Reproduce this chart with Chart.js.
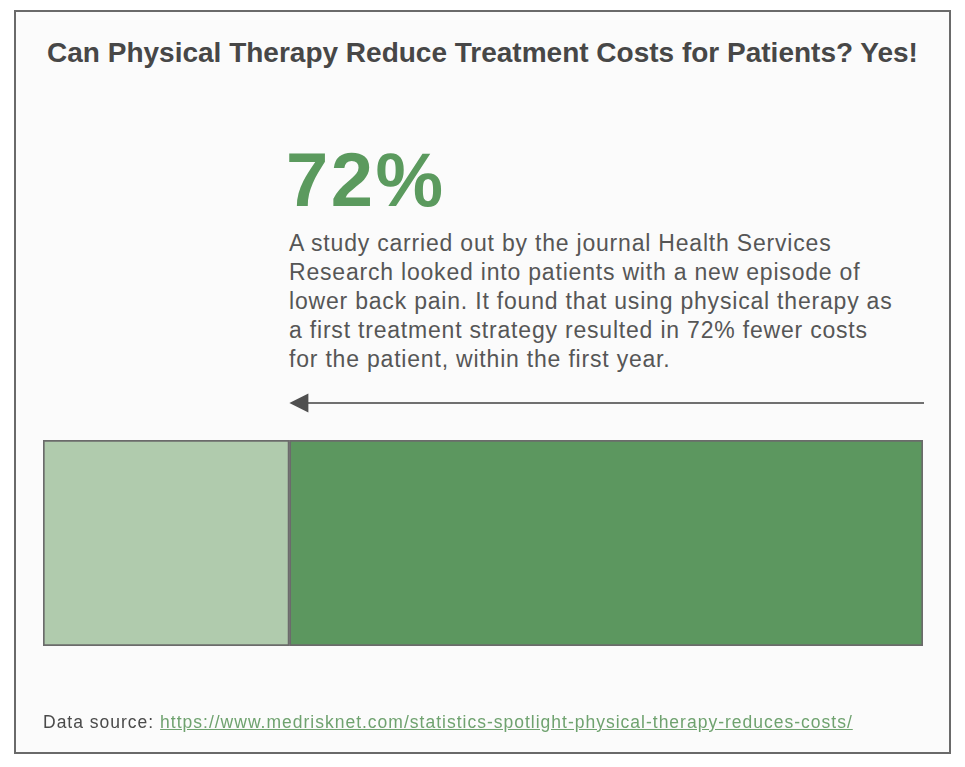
<!DOCTYPE html>
<html>
<head>
<meta charset="utf-8">
<script src="https://cdn.jsdelivr.net/npm/chart.js@4"></script>
<style>
  html, body { margin: 0; padding: 0; background: #ffffff; }
  body { width: 965px; height: 767px; position: relative; overflow: hidden; font-family: "Liberation Sans", Arial, sans-serif; }
  #frame { position: absolute; left: 14px; top: 10px; width: 933px; height: 740px; border: 2px solid #6a6a6a; background: #fbfbfb; box-sizing: content-box; }
  #title { position: absolute; left: 0; width: 965px; top: 37px; text-align: center; font-size: 28px; font-weight: bold; color: #474747; white-space: nowrap; }
  #big { position: absolute; left: 286px; top: 142px; font-size: 76px; font-weight: bold; color: #5b9a5e; line-height: 1; letter-spacing: 2.5px; }
  #para { position: absolute; left: 289px; top: 229px; width: 660px; font-size: 23px; line-height: 29px; color: #565656; letter-spacing: 0.8px; white-space: nowrap; }
  #source { position: absolute; left: 43px; top: 712px; font-size: 17.5px; color: #4a4a4a; letter-spacing: 1px; white-space: nowrap; }
  #source a { color: #6fa26f; text-decoration: underline; }
  #wrap { position: absolute; left: 0; top: 0; width: 965px; height: 767px; }
</style>
</head>
<body>
<div id="frame"></div>
<div id="title">Can Physical Therapy Reduce Treatment Costs for Patients? Yes!</div>
<div id="big">72%</div>
<div id="para">A study carried out by the journal Health Services<br>Research looked into patients with a new episode of<br>lower back pain. It found that using physical therapy as<br>a first treatment strategy resulted in 72% fewer costs<br>for the patient, within the first year.</div>
<div id="wrap"><canvas id="c" width="965" height="767"></canvas></div>
<div id="source">Data source: <a href="https://www.medrisknet.com/statistics-spotlight-physical-therapy-reduces-costs/">https://www.medrisknet.com/statistics-spotlight-physical-therapy-reduces-costs/</a></div>
<script>
const categories = ["Treatment costs"];
const remainingCost = [28];
const savedCost = [72];
const seriesLabels = ["Cost with physical therapy first", "Cost reduction"];

const arrowPlugin = {
  id: 'arrow',
  afterDatasetsDraw(chart) {
    const ctx = chart.ctx;
    const xs = chart.scales.x;
    const area = chart.chartArea;
    const y = area.top - 37;
    const xEnd = xs.getPixelForValue(remainingCost[0] + savedCost[0]) + 1;
    const xTip = xs.getPixelForValue(remainingCost[0]);
    ctx.save();
    ctx.strokeStyle = '#707070';
    ctx.lineWidth = 2;
    ctx.beginPath();
    ctx.moveTo(xTip + 10, y);
    ctx.lineTo(xEnd, y);
    ctx.stroke();
    ctx.fillStyle = '#4f4f4f';
    ctx.beginPath();
    ctx.moveTo(xTip, y);
    ctx.lineTo(xTip + 19, y - 9.5);
    ctx.lineTo(xTip + 19, y + 9.5);
    ctx.closePath();
    ctx.fill();
    ctx.restore();
  }
};

new Chart(document.getElementById('c'), {
  type: 'bar',
  data: {
    labels: categories,
    datasets: [
      { label: seriesLabels[0], data: remainingCost, backgroundColor: '#b0cbad', borderColor: '#6b6b6b', borderWidth: 2, borderSkipped: false },
      { label: seriesLabels[1], data: savedCost, backgroundColor: '#5c975f', borderColor: '#6b6b6b', borderWidth: 2, borderSkipped: false }
    ]
  },
  options: {
    indexAxis: 'y',
    responsive: false,
    animation: false,
    devicePixelRatio: 1,
    layout: { padding: { left: 43, right: 42, top: 440, bottom: 121 } },
    datasets: { bar: { categoryPercentage: 1, barPercentage: 1 } },
    scales: {
      x: { stacked: true, min: 0, max: 100, display: false },
      y: { stacked: true, display: false }
    },
    plugins: { legend: { display: false }, tooltip: { enabled: false }, title: { display: false } }
  },
  plugins: [arrowPlugin]
});
</script>
</body>
</html>
